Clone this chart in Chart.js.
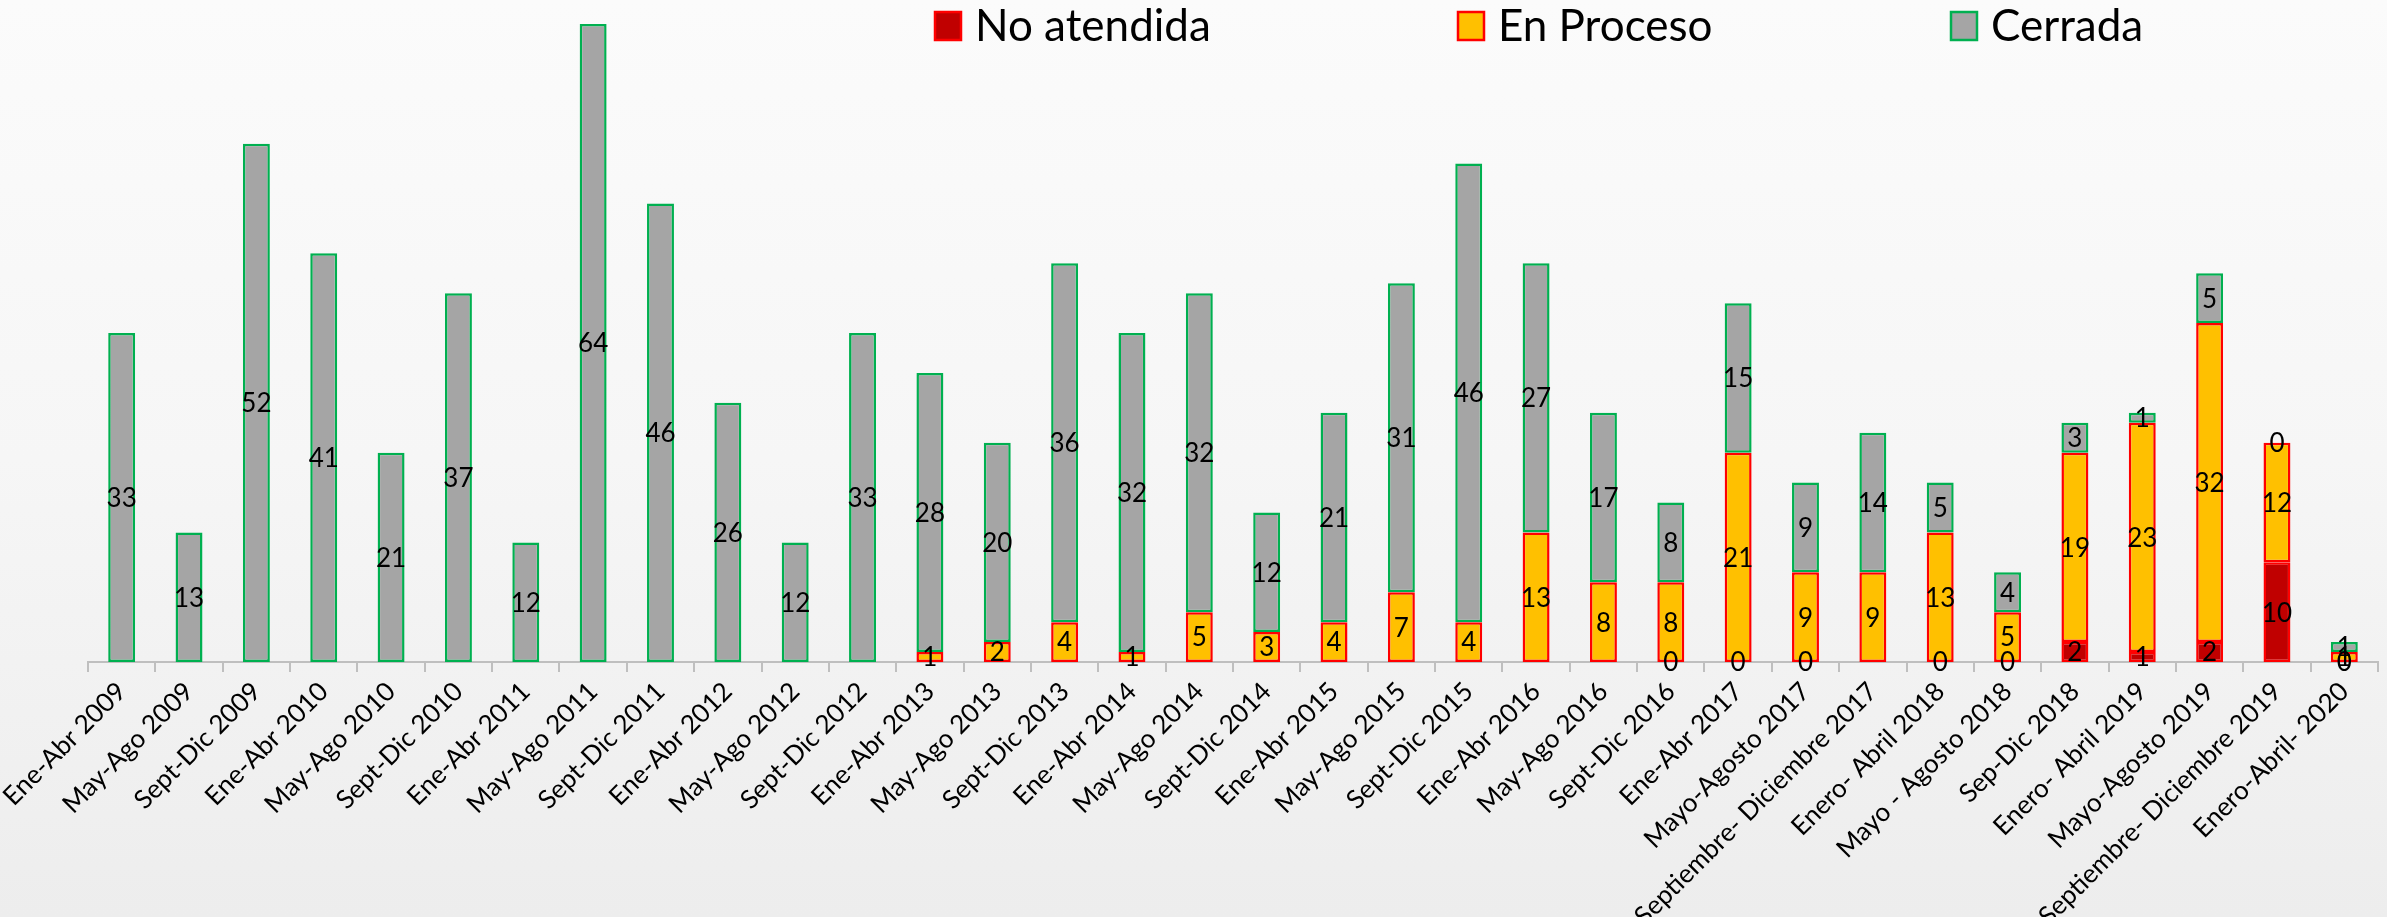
<!DOCTYPE html>
<html>
<head>
<meta charset="utf-8">
<script src="https://cdn.jsdelivr.net/npm/chart.js@4.4.1/dist/chart.umd.min.js"></script>
<style>
  html, body { margin: 0; padding: 0; }
  body { width: 2387px; height: 917px; background: linear-gradient(180deg, #fbfbfb 0%, #f6f6f6 50%, #ededed 100%); }
  #wrap { position: relative; width: 2387px; height: 917px; }
</style>
</head>
<body>
<div id="wrap"><canvas id="c" width="2387" height="917"></canvas></div>
<script>
const categories = [
  "Ene-Abr 2009","May-Ago 2009","Sept-Dic 2009","Ene-Abr 2010","May-Ago 2010","Sept-Dic 2010",
  "Ene-Abr 2011","May-Ago 2011","Sept-Dic 2011","Ene-Abr 2012","May-Ago 2012","Sept-Dic 2012",
  "Ene-Abr 2013","May-Ago 2013","Sept-Dic 2013","Ene-Abr 2014","May-Ago 2014","Sept-Dic 2014",
  "Ene-Abr 2015","May-Ago 2015","Sept-Dic 2015","Ene-Abr 2016","May-Ago 2016","Sept-Dic 2016",
  "Ene-Abr 2017","Mayo-Agosto 2017","Septiembre- Diciembre 2017","Enero- Abril 2018",
  "Mayo - Agosto 2018","Sep-Dic 2018","Enero- Abril 2019","Mayo-Agosto 2019",
  "Septiembre- Diciembre 2019","Enero-Abril- 2020"
];
const noAtendida = [null,null,null,null,null,null,null,null,null,null,null,null,
  null,null,null,null,null,null,null,null,null,null,null,0,
  0,0,null,0,0,2,1,2,10,0];
const enProceso = [null,null,null,null,null,null,null,null,null,null,null,null,
  1,2,4,1,5,3,4,7,4,13,8,8,
  21,9,9,13,5,19,23,32,12,1];
const cerrada = [33,13,52,41,21,37,12,64,46,26,12,33,
  28,20,36,32,32,12,21,31,46,27,17,8,
  15,9,14,5,4,3,1,5,0,1];
const seriesNames = ["No atendida","En Proceso","Cerrada"];

const FONT = "Lato, 'Liberation Sans', sans-serif";

const valueLabels = {
  id: 'valueLabels',
  afterDatasetsDraw(chart) {
    const ctx = chart.ctx;
    ctx.save();
    ctx.font = "26px " + FONT;
    ctx.fillStyle = "#000";
    ctx.textAlign = "center";
    ctx.textBaseline = "middle";
    chart.data.datasets.forEach((ds, di) => {
      const meta = chart.getDatasetMeta(di);
      meta.data.forEach((el, i) => {
        const v = ds.data[i];
        if (v === null || v === undefined) return;
        const p = el.getProps(['x','y','base'], true);
        ctx.fillText(String(v), p.x, (p.y + p.base) / 2 + 1);
      });
    });
    ctx.restore();
  }
};

const customLegend = {
  id: 'customLegend',
  afterDraw(chart, args, opts) {
    const ctx = chart.ctx;
    ctx.save();
    ctx.font = "44px " + FONT;
    ctx.textBaseline = "middle";
    ctx.textAlign = "left";
    chart.data.datasets.forEach((ds, i) => {
      const x = opts.xs[i], y = opts.y;
      ctx.fillStyle = ds.backgroundColor;
      ctx.fillRect(x, y - 14, 26, 28);
      ctx.lineWidth = 2.5;
      ctx.strokeStyle = ds.borderColor;
      ctx.strokeRect(x, y - 14, 26, 28);
      ctx.fillStyle = "#000";
      ctx.fillText(ds.label, x + 40, y + 1);
    });
    ctx.restore();
  }
};

function bw(ctx) {
  const v = ctx.raw;
  return (v === 0 || v === null) ? 0 : 2.5;
}

new Chart(document.getElementById('c'), {
  type: 'bar',
  data: {
    labels: categories,
    datasets: [
      { label: seriesNames[0], data: noAtendida, backgroundColor: "#C00000", borderColor: "#FF0000", borderWidth: bw, borderSkipped: false },
      { label: seriesNames[1], data: enProceso, backgroundColor: "#FFC000", borderColor: "#FF0000", borderWidth: bw, borderSkipped: false },
      { label: seriesNames[2], data: cerrada, backgroundColor: "#A5A5A5", borderColor: "#00B050", borderWidth: bw, borderSkipped: false }
    ]
  },
  options: {
    responsive: false,
    animation: false,
    devicePixelRatio: 1,
    layout: { padding: { left: 88, right: 9, top: 24, bottom: 0 } },
    datasets: { bar: { barPercentage: 0.4, categoryPercentage: 1.0 } },
    plugins: {
      legend: { display: false },
      tooltip: { enabled: false },
      customLegend: { xs: [935, 1458, 1951], y: 26 }
    },
    scales: {
      x: {
        stacked: true,
        border: { display: true, color: "#BFBFBF", width: 2 },
        grid: { display: true, drawOnChartArea: false, drawTicks: true, tickLength: 10, color: "#BFBFBF", lineWidth: 2, offset: true },
        ticks: {
          autoSkip: false, maxRotation: 45, minRotation: 45, color: "#000",
          font: { family: FONT, size: 26 }, padding: 4
        },
        afterFit(scale) { scale.height = 255; }
      },
      y: {
        stacked: true, display: false, min: 0, max: 64
      }
    }
  },
  plugins: [valueLabels, customLegend]
});
</script>
</body>
</html>
